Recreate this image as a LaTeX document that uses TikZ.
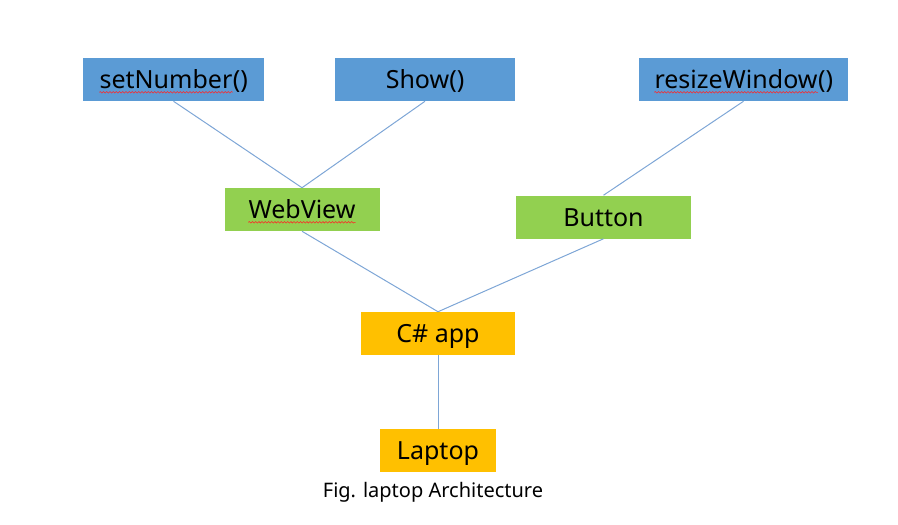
\documentclass[tikz,border=0pt]{standalone}
\usepackage{fontspec}
\setmainfont{Noto Sans}
\usetikzlibrary{decorations.pathmorphing}
\definecolor{boxblue}{HTML}{5B9BD5}
\definecolor{boxgreen}{HTML}{92D050}
\definecolor{boxgold}{HTML}{FFC000}
\definecolor{linkblue}{HTML}{7EA6D6}
\newcommand{\wavy}[1]{\tikz[baseline=(wv@t.base), x=1pt, y=1pt]{\node[inner sep=0pt, minimum width=0pt, minimum height=0pt, text height=, text depth=, fill=none] (wv@t) {#1};\draw[red!85!white, line width=0.4pt, decorate, decoration={snake, amplitude=0.6pt, segment length=2.4pt}] ([yshift=-2.6pt]wv@t.base west) -- ([yshift=-2.6pt]wv@t.base east);}}
\tikzset{
  fn/.style={fill=boxblue, minimum height=32.25pt, inner sep=0pt, text height=14pt, text depth=0pt, font=\fontsize{18.75}{22}\selectfont},
  ctrl/.style={fn, fill=boxgreen},
  host/.style={fn, fill=boxgold},
  link/.style={draw=linkblue, line width=0.75pt}
}
\begin{document}
\begin{tikzpicture}[x=0.75pt, y=-0.75pt]
\useasboundingbox (0,0) rectangle (898,524);
\node[fn, minimum width=135.75pt] (setnum) at (173.5,79.5) {\wavy{setNumber}()};
\node[fn, minimum width=135pt] (show) at (425,79.5) {Show()};
\node[fn, minimum width=156.75pt] (resize) at (743.5,79.5) {\wavy{resizeWindow}()};
\node[ctrl, minimum width=116.25pt] (webview) at (302,209.5) {\wavy{WebView}};
\node[ctrl, minimum width=131.25pt] (button) at (603.5,217) {Button};
\node[host, minimum width=115.5pt] (app) at (438,333.5) {C\# app};
\node[host, minimum width=87pt] (laptop) at (438,450.5) {Laptop};
\node[font=\fontsize{15}{18}\selectfont] (caption) at (433,492) {Fig. laptop Architecture};
\draw[link] (setnum.south) -- (webview.north);
\draw[link] (show.south) -- (webview.north);
\draw[link] (resize.south) -- (button.north);
\draw[link] (webview.south) -- (app.north);
\draw[link] (button.south) -- (app.north);
\draw[link] (app.south) -- (laptop.north);
\end{tikzpicture}
\end{document}
